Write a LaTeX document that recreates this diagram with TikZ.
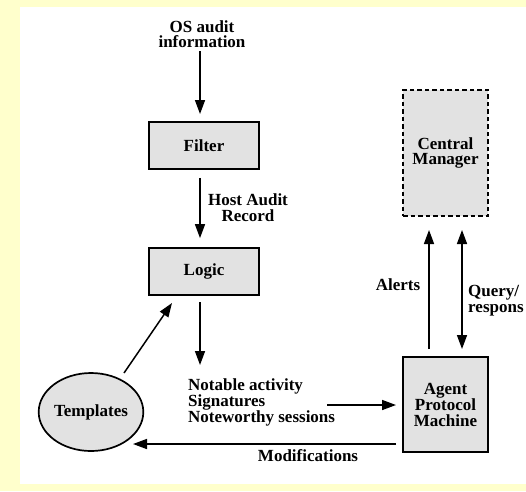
\documentclass[tikz,border=0pt]{standalone}
\usepackage{fontspec}
\setmainfont{Liberation Serif}
\usetikzlibrary{arrows.meta,shapes.geometric,calc}
\definecolor{bgyellow}{HTML}{FFFFCC}
\definecolor{boxgray}{HTML}{E2E2E2}
\tikzset{
  txt/.style={font=\fontsize{17}{15.5}\selectfont\bfseries, inner sep=0pt, align=center},
  box/.style={draw, line width=1.7pt, fill=boxgray, minimum width=110pt, minimum height=47pt, inner sep=0pt, font=\fontsize{17}{15.5}\selectfont\bfseries, align=center},
  arr/.style={line width=1.5pt, -{Triangle[length=14pt,width=10pt]}},
  darr/.style={line width=1.5pt, {Triangle[length=14pt,width=10pt]}-{Triangle[length=14pt,width=10pt]}},
}
\begin{document}
\begin{tikzpicture}[x=1pt,y=-1pt]
\useasboundingbox (0,0) rectangle (526,491);
\fill[bgyellow] (0,0) rectangle (526,491);
\fill[white] (20,7) rectangle (526,484);

\node[txt] (os) at (202,34) {OS audit\\information};
\node[box] (filter) at (204,145.5) {Filter};
\node[box] (logic) at (204,271.5) {Logic};
\node[box, dashed, dash pattern=on 4.5pt off 3pt, minimum width=85pt, minimum height=126pt] (cm) at (445.5,153) {Central\\Manager};
\node[box, minimum width=85pt, minimum height=95pt] (agent) at (445.5,404.5) {Agent\\Protocol\\Machine};
\node[ellipse, draw, line width=1.7pt, fill=boxgray, minimum width=87pt, minimum height=78pt, inner sep=0pt, font=\fontsize{17}{15.5}\selectfont\bfseries] (templ) at (91,412) {Templates};
\node[txt, align=left, anchor=west] (notable) at (188,402.5) {Notable activity\\Signatures\\Noteworthy sessions};

\node[txt] (hostlbl) at (248,207.5) {Host Audit\\Record};
\node[txt] (alertlbl) at (398,285) {Alerts};
\node[txt, align=left, anchor=west] (querylbl) at (468,300.5) {Query/\\respons};
\node[txt] (modlbl) at (308,456) {Modifications};

\coordinate (osA) at (200,51);
\coordinate (osB) at (200,114);
\draw[arr] (osA) -- (osB);
\draw[arr] ([xshift=-4pt]filter.south) ++(0,8) -- ([xshift=-4pt,yshift=9pt]logic.north);
\coordinate (lgA) at (200,302);
\coordinate (lgB) at (200,365);
\draw[arr] (lgA) -- (lgB);
\coordinate (tpA) at (124,373);
\coordinate (tpB) at (172,303);
\draw[arr] (tpA) -- (tpB);
\coordinate (ntA) at (327,405);
\coordinate (ntB) at (396,405);
\draw[arr] (ntA) -- (ntB);
\coordinate (mdA) at (396,444);
\coordinate (mdB) at (133,444);
\draw[arr] (mdA) -- (mdB);
\coordinate (alA) at (429,349);
\coordinate (alB) at (429,230);
\draw[arr] (alA) -- (alB);
\coordinate (qrA) at (462,349);
\coordinate (qrB) at (462,230);
\draw[darr] (qrA) -- (qrB);
\end{tikzpicture}
\end{document}
